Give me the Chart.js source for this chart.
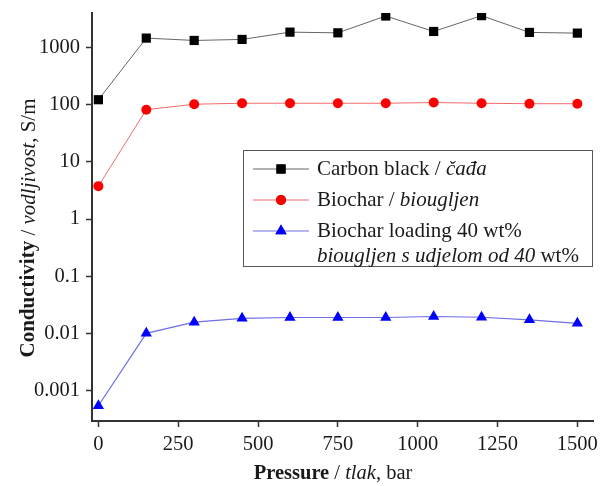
<!DOCTYPE html>
<html>
<head>
<meta charset="utf-8">
<script src="https://cdn.jsdelivr.net/npm/chart.js@4/dist/chart.umd.min.js"></script>
<style>
    body { margin: 0; background: #fff; }
    #wrap { width: 605px; height: 486px; }
</style>
</head>
<body>
<div id="wrap"><canvas id="chart" width="605" height="486"></canvas></div>
<script>
// Data
const pressures = [0, 150, 300, 450, 600, 750, 900, 1050, 1200, 1350, 1500];
const carbonBlack = [121, 1440, 1310, 1365, 1830, 1780, 3500, 1880, 3550, 1810, 1760];
const biochar = [3.75, 81, 101, 105, 105, 105, 105, 108, 105, 103, 103];
const biocharLoading = [0.00055, 0.0101, 0.0158, 0.0185, 0.0191, 0.0191, 0.0191, 0.0199, 0.0193, 0.0174, 0.0151];
const xTicks = [0, 250, 500, 750, 1000, 1250, 1500];
const yTicks = [0.001, 0.01, 0.1, 1, 10, 100, 1000];

const SERIF = '"Liberation Serif", "DejaVu Serif", serif';

function toPoints(values) {
    return pressures.map((p, i) => ({x: p, y: values[i]}));
}

// Draws a run of [text, style] pieces one after another
function drawRuns(ctx, runs, x, y, size) {
    let cx = x;
    runs.forEach(([text, style]) => {
        ctx.font = `${style} ${size}px ${SERIF}`;
        ctx.fillText(text, cx, y);
        cx += ctx.measureText(text).width;
    });
}

function runsWidth(ctx, runs, size) {
    let w = 0;
    runs.forEach(([text, style]) => {
        ctx.font = `${style} ${size}px ${SERIF}`;
        w += ctx.measureText(text).width;
    });
    return w;
}

const legendRows = [
    [['Carbon black / ', 'normal'], ['čađa', 'italic']],
    [['Biochar / ', 'normal'], ['biougljen', 'italic']],
    [['Biochar loading 40 wt%', 'normal']]
];
const legendExtra = [['biougljen s udjelom od 40 ', 'italic'], ['wt%', 'normal']];

const decorPlugin = {
    id: 'decor',
    afterDraw(chart) {
        const ctx = chart.ctx;
        ctx.save();
        ctx.fillStyle = '#1a1a1a';
        ctx.textBaseline = 'middle';

        // x title
        const xRuns = [['Pressure', 'bold'], [' / ', 'normal'], ['tlak', 'italic'], [', bar', 'normal']];
        const xw = runsWidth(ctx, xRuns, 20.5);
        drawRuns(ctx, xRuns, 333 - xw / 2, 474, 20.5);

        // y title
        const yRuns = [['Conductivity', 'bold'], [' / ', 'normal'], ['vodljivost', 'italic'], [', S/m', 'normal']];
        const yw = runsWidth(ctx, yRuns, 21);
        ctx.save();
        ctx.translate(29, 228);
        ctx.rotate(-Math.PI / 2);
        drawRuns(ctx, yRuns, -yw / 2, 0, 21);
        ctx.restore();

        // legend box
        ctx.strokeStyle = '#555';
        ctx.lineWidth = 1;
        ctx.strokeRect(243.5, 150.5, 349, 116);
        const rowY = [169, 200, 231];
        chart.data.datasets.forEach((ds, i) => {
            const y = rowY[i];
            ctx.strokeStyle = ds.borderColor;
            ctx.lineWidth = ds.borderWidth;
            ctx.beginPath();
            ctx.moveTo(253, y);
            ctx.lineTo(309, y);
            ctx.stroke();
            Chart.helpers.drawPoint(ctx, {
                pointStyle: ds.pointStyle,
                radius: ds.pointRadius,
                borderWidth: 0
            }, 281, y);
            ctx.fillStyle = ds.pointBackgroundColor;
            ctx.fill();
            ctx.fillStyle = '#1a1a1a';
            drawRuns(ctx, legendRows[i], 317, y, 21);
        });
        drawRuns(ctx, legendExtra, 317, 256, 21);
        ctx.restore();
    }
};

new Chart(document.getElementById('chart'), {
    type: 'line',
    data: {
        datasets: [{
            label: 'Carbon black / čađa',
            data: toPoints(carbonBlack),
            borderColor: '#666666',
            borderWidth: 1,
            pointStyle: 'rect',
            pointRadius: 6.5,
            pointBackgroundColor: '#000000',
            pointBorderWidth: 0
        }, {
            label: 'Biochar / biougljen',
            data: toPoints(biochar),
            borderColor: '#f06a6a',
            borderWidth: 1,
            pointStyle: 'circle',
            pointRadius: 5,
            pointBackgroundColor: '#ff0000',
            pointBorderWidth: 0
        }, {
            label: 'Biochar loading 40 wt%',
            data: toPoints(biocharLoading),
            borderColor: '#6e6ee6',
            borderWidth: 1.2,
            pointStyle: 'triangle',
            pointRadius: 6.5,
            pointBackgroundColor: '#0000ff',
            pointBorderWidth: 0
        }]
    },
    options: {
        responsive: false,
        animation: false,
        layout: {padding: {top: 13, right: 12, left: 0, bottom: 0}},
        plugins: {legend: {display: false}, tooltip: {enabled: false}},
        scales: {
            x: {
                type: 'linear',
                min: -20,
                max: 1549,
                afterBuildTicks: s => { s.ticks = xTicks.map(v => ({value: v})); },
                afterFit: s => { s.height = 65; s.paddingLeft = 0; s.paddingRight = 0; },
                grid: {drawOnChartArea: false, drawTicks: true, tickLength: 6, tickColor: '#333', tickWidth: 1.5},
                border: {display: true, color: '#333', width: 2},
                ticks: {
                    color: '#1a1a1a',
                    padding: 5,
                    font: {family: SERIF, size: 20.5},
                    maxRotation: 0,
                    callback: v => String(v)
                }
            },
            y: {
                type: 'logarithmic',
                min: 0.000298,
                max: 3950,
                afterBuildTicks: s => { s.ticks = yTicks.map(v => ({value: v})); },
                afterFit: s => { s.width = 92; s.paddingTop = 0; s.paddingBottom = 0; },
                grid: {drawOnChartArea: false, drawTicks: true, tickLength: 6, tickColor: '#333', tickWidth: 1.5},
                border: {display: true, color: '#333', width: 2},
                ticks: {
                    color: '#1a1a1a',
                    padding: 6,
                    font: {family: SERIF, size: 20.5},
                    callback: v => String(v)
                }
            }
        }
    },
    plugins: [decorPlugin]
});
</script>
</body>
</html>
